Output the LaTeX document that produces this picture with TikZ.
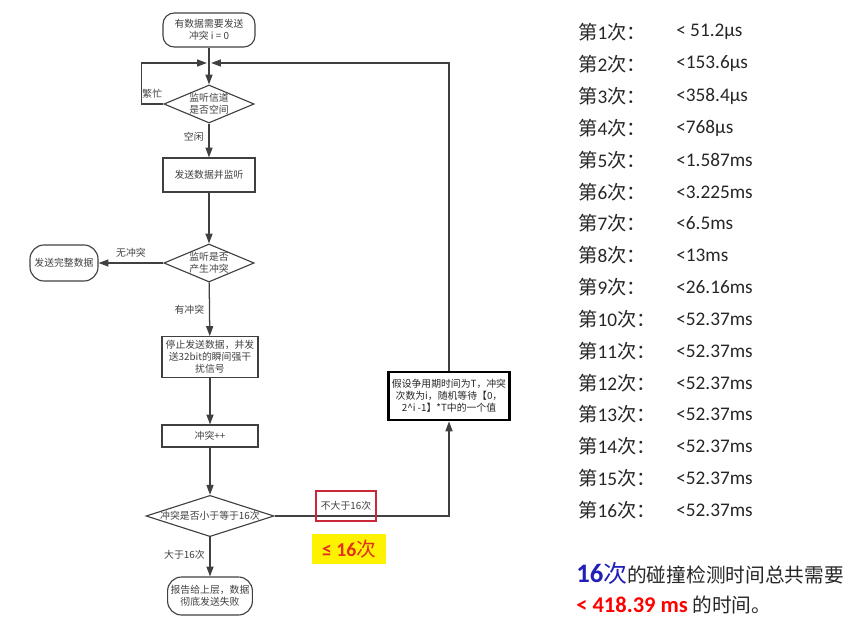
\documentclass[tikz,border=0pt]{standalone}
\usepackage{fontspec}
\setmainfont{Noto Sans CJK SC}
\newfontfamily\latn{Carlito}
\usepackage{tikz}
\usetikzlibrary{arrows.meta,shapes.geometric,positioning}
\definecolor{lc}{HTML}{404040}
\definecolor{tc}{HTML}{262626}
\definecolor{boxred}{HTML}{C8283A}
\definecolor{hired}{HTML}{E0301E}
\definecolor{sumblue}{HTML}{2020B8}
\newcommand\fsmall{\fontsize{7}{8.6}\selectfont}
\newcommand\frow{\fontsize{13.7}{15}\selectfont}
\newcommand\fsum{\fontsize{14}{16}\selectfont}

\begin{document}
\begin{tikzpicture}[x=0.025cm,y=-0.025cm,
  line/.style={draw=lc,line width=0.9pt},
  arr/.style={line,-{Triangle[length=7pt,width=5pt]}},
  proc/.style={draw=lc,line width=0.8pt,minimum width=2.3cm,minimum height=0.85cm,align=center,font=\fsmall,text=lc,inner sep=1pt},
  term/.style={proc,rounded corners=8pt},
  dec/.style={draw=lc,line width=0.8pt,diamond,aspect=2.4,minimum width=2.25cm,minimum height=0.95cm,align=center,font=\fsmall,text=lc,inner sep=0pt},
  lbl/.style={font=\fsmall,text=lc},
  row/.style={font=\frow,anchor=west,text=tc,inner sep=0pt}]
\useasboundingbox (0,0) rectangle (860,630);
% flow chart
\node[term] (start) at (209,30) {有数据需要发送\\冲突 i = 0};
\coordinate (M) at (209,63);
\node[dec] (listen) at (209,104) {监听信道\\是否空间};
\node[proc] (send) at (209,175) {发送数据并监听};
\node[dec] (detect) at (209,263) {监听是否\\产生冲突};
\node[term,rounded corners=10pt,minimum width=1.7cm,minimum height=0.9cm] (full) at (64,263) {发送完整数据};
\node[proc,minimum width=2.4cm,minimum height=1.02cm] (jam) at (210,357) {停止发送数据，并发\\送32bit的瞬间强干\\扰信号};
\node[proc,minimum width=2.4cm,minimum height=0.55cm] (count) at (210,436) {冲突++};
\node[dec,aspect=3.1,minimum width=2.85cm,minimum height=0.93cm] (check) at (210,516) {冲突是否小于等于16次};
\node[term,rounded corners=10pt,minimum width=2.12cm,minimum height=0.95cm] (fail) at (210,596) {报告给上层，数据\\彻底发送失败};
\node[proc,draw=black,line width=2pt,text=tc,minimum width=3.02cm,minimum height=1.2cm] (wait) at (449,396) {假设争用期时间为T，冲突\\次数为i，随机等待【0，\\2\textasciicircum i -1】*T中的一个值};

\draw[line] (start) -- (M);
\draw[arr] (M) -- (listen);
\draw[arr,shorten >=1.5pt] (listen.west) -- node[lbl,above]{繁忙} ++(-22,0) |- (M);
\draw[arr] (listen) -- node[lbl,left,pos=0.4]{空闲} (send);
\draw[arr] (send) -- (detect);
\draw[arr] (detect.west) -- node[lbl,above]{无冲突} (full.east);
\draw[arr] (detect) -- node[lbl,left]{有冲突} (jam);
\draw[arr] (jam) -- (count);
\draw[arr] (count) -- (check);
\draw[arr] (check) -- node[lbl,left,pos=0.45]{大于16次} (fail);
\draw[arr] (check.east) -| (wait.south);
\draw[arr,shorten >=1.5pt] (wait.north) |- (M);

\node[lbl,draw=boxred,line width=1.4pt,minimum width=1.45cm,minimum height=0.75cm] (le) at (346,506) {不大于16次};
\node[fill=yellow,minimum width=1.83cm,minimum height=0.75cm,text=hired] (hi) at (349,549) {\fsum{\latn\bfseries ≤ 16}次};

% times per attempt
\node[row] (n1) at (578,32) {第{\latn 1}次：}; \node[row] (v1) at (676,32) {\latn < 51.2µs};
\node[row] (n2) at (578,64) {第{\latn 2}次：}; \node[row] (v2) at (676,64) {\latn <153.6µs};
\node[row] (n3) at (578,96) {第{\latn 3}次：}; \node[row] (v3) at (676,96) {\latn <358.4µs};
\node[row] (n4) at (578,128) {第{\latn 4}次：}; \node[row] (v4) at (676,128) {\latn <768µs};
\node[row] (n5) at (578,160) {第{\latn 5}次：}; \node[row] (v5) at (676,160) {\latn <1.587ms};
\node[row] (n6) at (578,192) {第{\latn 6}次：}; \node[row] (v6) at (676,192) {\latn <3.225ms};
\node[row] (n7) at (578,223) {第{\latn 7}次：}; \node[row] (v7) at (676,223) {\latn <6.5ms};
\node[row] (n8) at (578,255) {第{\latn 8}次：}; \node[row] (v8) at (676,255) {\latn <13ms};
\node[row] (n9) at (578,287) {第{\latn 9}次：}; \node[row] (v9) at (676,287) {\latn <26.16ms};
\node[row] (n10) at (578,319) {第{\latn 10}次：}; \node[row] (v10) at (676,319) {\latn <52.37ms};
\node[row] (n11) at (578,351) {第{\latn 11}次：}; \node[row] (v11) at (676,351) {\latn <52.37ms};
\node[row] (n12) at (578,383) {第{\latn 12}次：}; \node[row] (v12) at (676,383) {\latn <52.37ms};
\node[row] (n13) at (578,414) {第{\latn 13}次：}; \node[row] (v13) at (676,414) {\latn <52.37ms};
\node[row] (n14) at (578,446) {第{\latn 14}次：}; \node[row] (v14) at (676,446) {\latn <52.37ms};
\node[row] (n15) at (578,478) {第{\latn 15}次：}; \node[row] (v15) at (676,478) {\latn <52.37ms};
\node[row] (n16) at (578,510) {第{\latn 16}次：}; \node[row] (v16) at (676,510) {\latn <52.37ms};

\node[row,font=\fsum] (s1) at (576,573) {{\color{sumblue}{\fontsize{19}{20}\selectfont\latn\bfseries 16}{\fontsize{17}{20}\selectfont 次}}的碰撞检测时间总共需要};
\node[row,font=\fsum] (s2) at (576,605) {{\color{red}\fontsize{16}{18}\selectfont\latn\bfseries < 418.39 ms} 的时间。};
\end{tikzpicture}
\end{document}
